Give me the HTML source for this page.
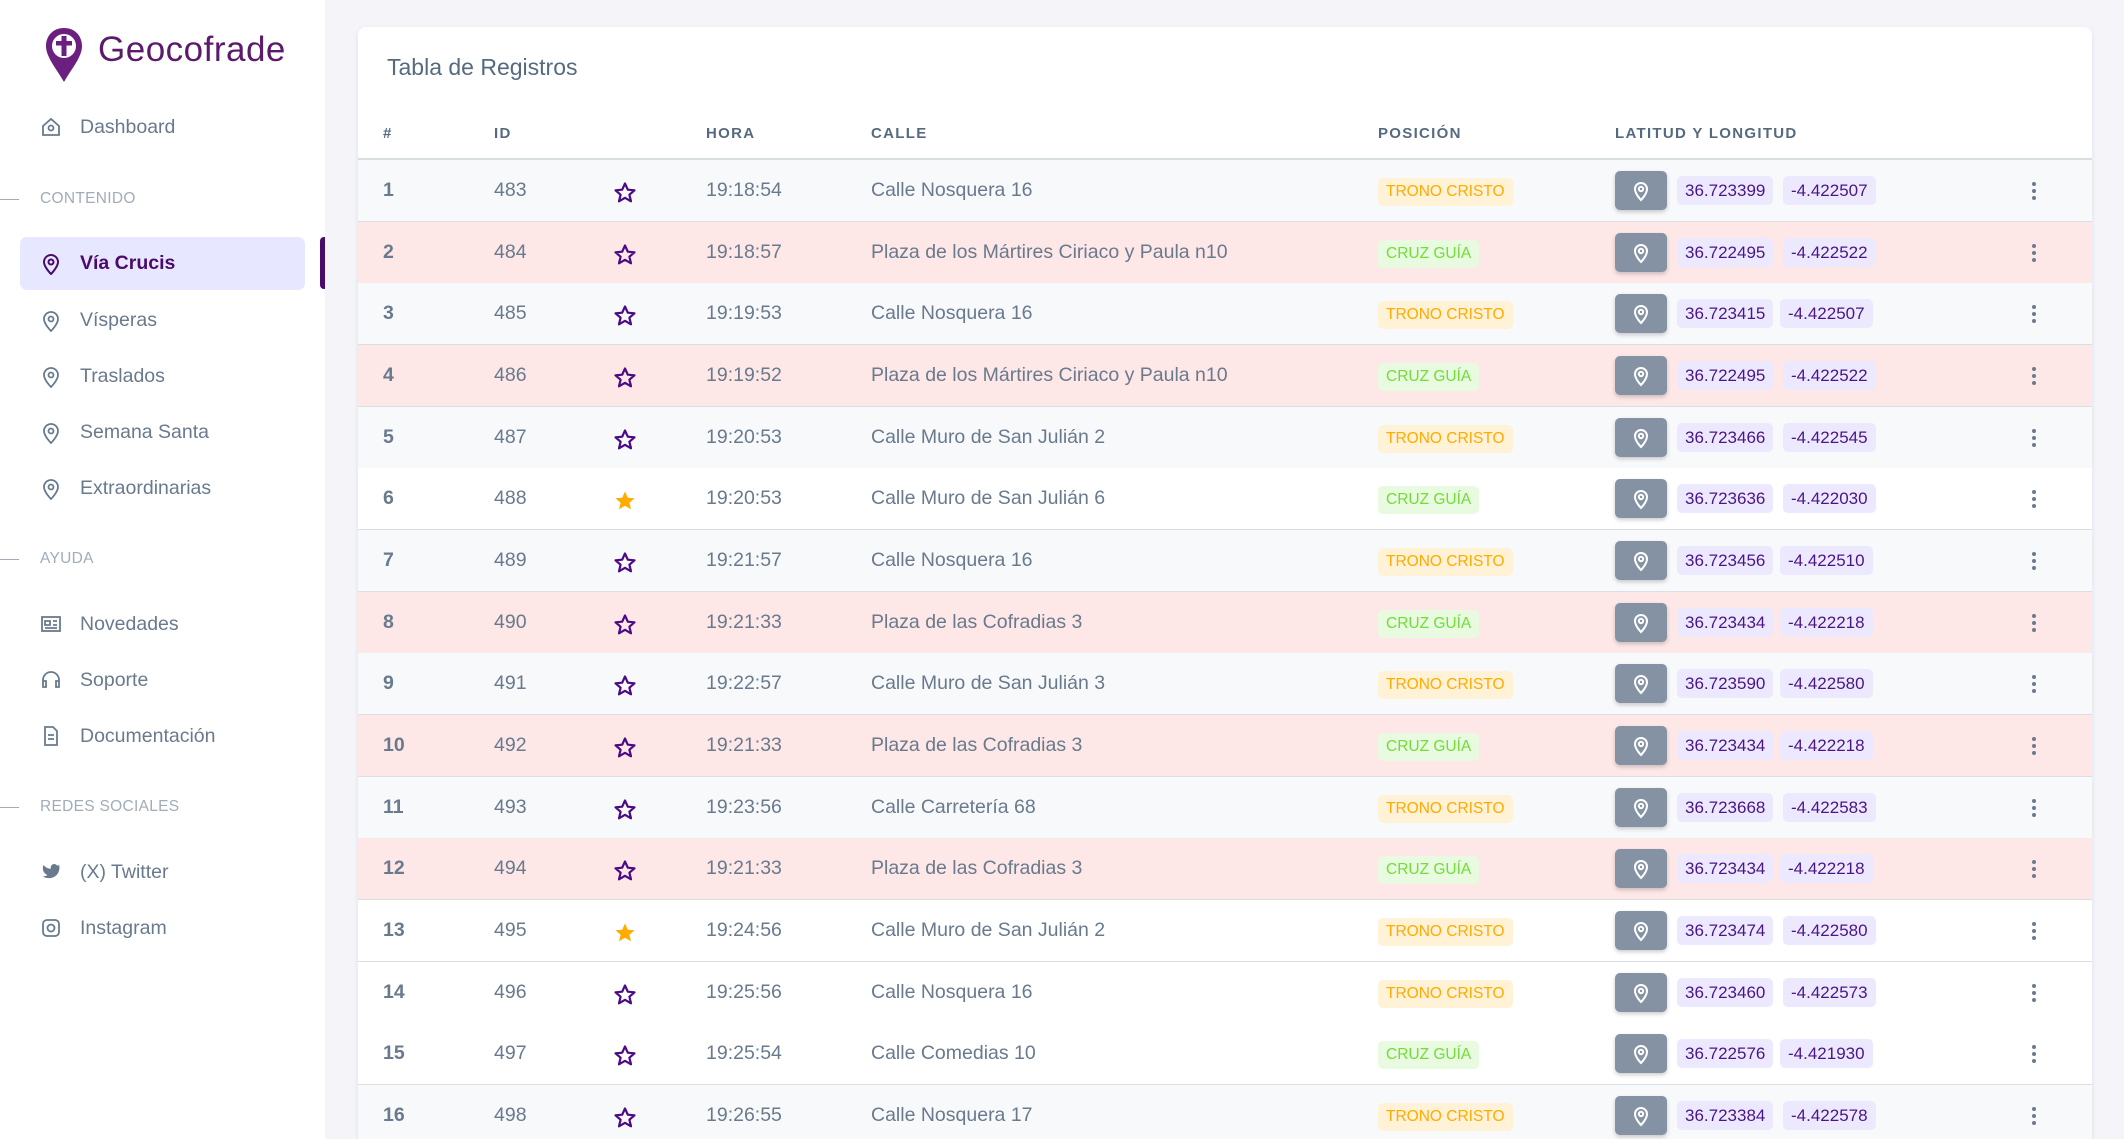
<!DOCTYPE html>
<html><head><meta charset="utf-8">
<style>
*{margin:0;padding:0;box-sizing:border-box}
html{width:2124px;height:1139px;overflow:hidden}
body{width:2124px;height:1139px;overflow:hidden;background:#f5f5f9;font-family:"Liberation Sans",sans-serif;color:#697a8d;position:relative}
.side{position:absolute;left:0;top:0;width:325px;height:1139px;background:#fff}
.logo{position:absolute;left:44px;top:26px}
.brand{position:absolute;left:98px;top:30px;font-size:35px;color:#5b1a6a;letter-spacing:0.5px}
.mi{position:absolute;left:0;width:325px;height:30px;font-size:19.5px;color:#697a8d;line-height:30px}
.mi svg{position:absolute;left:41px;top:5px}
.mi span{position:absolute;left:80px}
.sec{position:absolute;left:40px;font-size:15.5px;color:#a1acb8;letter-spacing:0.3px}
.secl{position:absolute;left:0;width:19px;height:1px;background:#a1acb8}
.active{position:absolute;left:20px;top:237px;width:285px;height:53px;background:#e7e7ff;border-radius:7px}
.abar{position:absolute;left:320px;top:237px;width:5px;height:52px;background:#4b0b6b;border-radius:4px 0 0 4px}
.wrap{position:absolute;left:0;top:0;width:2124px;height:1139px;overflow:hidden}
.card{position:absolute;left:358px;top:27px;width:1734px;height:1112px;background:#fff;border-radius:8px 8px 0 0;box-shadow:0 2px 6px rgba(67,89,113,.12)}
.title{position:absolute;left:387px;top:54px;font-size:23px;color:#566a7f}
.th{position:absolute;top:125px;font-size:15px;color:#566a7f;letter-spacing:1.3px;font-weight:bold}
.hl{position:absolute;left:358px;top:158px;width:1734px;height:2px;background:#d9dee3}
.row{position:absolute;left:358px;width:1734px;height:62px;border-bottom:1px solid #dbdee2;font-size:19.5px}
.row>*{position:absolute}
.n{left:25px;top:19px;font-weight:bold;color:#697a8d}
.id{left:136px;top:19px}
.st{left:255px;top:21px}
.h{left:348px;top:19px}
.c{left:513px;top:19px}
.b{left:1020px;top:18px;height:28px;line-height:28px;padding:0 8px;font-size:15.5px;border-radius:5px}
.tc{background:#fff2d6;color:#ffab00}
.cg{background:#e8fadf;color:#71dd37}
.mp{left:1257px;top:11px;width:52px;height:39px;background:#8592a3;border-radius:5px;box-shadow:0 2px 4px rgba(0,0,0,.2)}
.mp svg{position:absolute;left:17px;top:9px}
.la{top:16px;height:29px;line-height:29px;padding:0 8px;font-size:17px;color:#4b1487;background:#ece9ff;border-radius:5px}
.dt{left:1674px;top:22px;width:4px}
.dt i{display:block;width:4px;height:4px;border-radius:2px;background:#697a8d;margin-bottom:3px}
.l{background:#f8f9fb}.p{background:#fde7e7}.w{background:#fff}
</style></head><body>
<div class="wrap">
<div class="side">
<svg class="logo" width="40" height="58" viewBox="0 0 40 58"><path d="M20 2C9 2 2 10 2 20c0 11 10 22 18 36 8-14 18-25 18-36C38 10 31 2 20 2z" fill="#6b1f7f"/><circle cx="20" cy="20" r="12" fill="#fff"/><rect x="17.5" y="10" width="5" height="20" fill="#6b1f7f"/><rect x="12" y="15" width="16" height="4.5" fill="#6b1f7f"/></svg>
<div class="brand">Geocofrade</div>
<div class="mi" style="top:112px"><svg width="20" height="20" viewBox="0 0 20 20" fill="none" stroke="#697a8d" stroke-width="1.8"><path d="M2 9L10 2l8 7v9H2z"/><circle cx="10" cy="11" r="2.5"/></svg><span>Dashboard</span></div>
<div class="secl" style="top:199px"></div><div class="sec" style="top:190px">CONTENIDO</div>
<div class="active"></div><div class="abar"></div>
<div class="mi" style="top:248px;color:#4b0b6b;font-weight:bold"><svg width="20" height="22" viewBox="0 0 20 22" fill="none" stroke="#4b0b6b" stroke-width="2"><path d="M10 21s7-7 7-12a7 7 0 0 0-14 0c0 5 7 12 7 12z"/><circle cx="10" cy="9" r="2.5"/></svg><span>Vía Crucis</span></div>
<div class="mi" style="top:305px"><svg width="20" height="22" viewBox="0 0 20 22" fill="none" stroke="#697a8d" stroke-width="1.8"><path d="M10 21s7-7 7-12a7 7 0 0 0-14 0c0 5 7 12 7 12z"/><circle cx="10" cy="9" r="2.5"/></svg><span>Vísperas</span></div>
<div class="mi" style="top:361px"><svg width="20" height="22" viewBox="0 0 20 22" fill="none" stroke="#697a8d" stroke-width="1.8"><path d="M10 21s7-7 7-12a7 7 0 0 0-14 0c0 5 7 12 7 12z"/><circle cx="10" cy="9" r="2.5"/></svg><span>Traslados</span></div>
<div class="mi" style="top:417px"><svg width="20" height="22" viewBox="0 0 20 22" fill="none" stroke="#697a8d" stroke-width="1.8"><path d="M10 21s7-7 7-12a7 7 0 0 0-14 0c0 5 7 12 7 12z"/><circle cx="10" cy="9" r="2.5"/></svg><span>Semana Santa</span></div>
<div class="mi" style="top:473px"><svg width="20" height="22" viewBox="0 0 20 22" fill="none" stroke="#697a8d" stroke-width="1.8"><path d="M10 21s7-7 7-12a7 7 0 0 0-14 0c0 5 7 12 7 12z"/><circle cx="10" cy="9" r="2.5"/></svg><span>Extraordinarias</span></div>
<div class="secl" style="top:559px"></div><div class="sec" style="top:550px">AYUDA</div>
<div class="mi" style="top:609px"><svg width="20" height="20" viewBox="0 0 20 20" fill="none" stroke="#697a8d" stroke-width="1.8"><rect x="1" y="3" width="18" height="14"/><path d="M4 7h5v4H4zM12 7h4M12 11h4M4 14h12"/></svg><span>Novedades</span></div>
<div class="mi" style="top:665px"><svg width="20" height="20" viewBox="0 0 20 20" fill="none" stroke="#697a8d" stroke-width="1.8"><path d="M2 13v-3a8 8 0 0 1 16 0v3M2 11h3v6H2zM15 11h3v6h-3z"/></svg><span>Soporte</span></div>
<div class="mi" style="top:721px"><svg width="20" height="20" viewBox="0 0 20 20" fill="none" stroke="#697a8d" stroke-width="1.8"><path d="M4 1h8l4 4v14H4zM7 9h6M7 13h6"/></svg><span>Documentación</span></div>
<div class="secl" style="top:807px"></div><div class="sec" style="top:798px">REDES SOCIALES</div>
<div class="mi" style="top:857px"><svg width="20" height="20" viewBox="0 0 20 20"><path d="M19 4c-1 .5-2 .7-2 .7.8-.5 1.3-1.3 1.5-2-.7.4-1.5.7-2.3.9A3.5 3.5 0 0 0 10 6.8 10 10 0 0 1 2.5 3s-3 7 4 10c-1.5 1-3.3 1.5-5 1.4 8 4.5 17 0 17-9.3V4.6C19 4 19 4 19 4z" fill="#697a8d"/></svg><span>(X) Twitter</span></div>
<div class="mi" style="top:913px"><svg width="20" height="20" viewBox="0 0 20 20" fill="none" stroke="#697a8d" stroke-width="1.8"><rect x="2" y="2" width="16" height="16" rx="4"/><circle cx="10" cy="10" r="3.5"/></svg><span>Instagram</span></div>
</div>
<div class="card"></div>
<div class="title">Tabla de Registros</div>
<div class="th" style="left:383px">#</div>
<div class="th" style="left:494px">ID</div>
<div class="th" style="left:706px">HORA</div>
<div class="th" style="left:871px">CALLE</div>
<div class="th" style="left:1378px">POSICIÓN</div>
<div class="th" style="left:1615px">LATITUD Y LONGITUD</div>
<div class="hl"></div>

<svg width="0" height="0" style="position:absolute"><defs>
<symbol id="so" viewBox="0 0 24 24"><path d="M12 2.5l2.8 6.2 6.7.6-5.1 4.4 1.6 6.6L12 16.8l-6 3.5 1.6-6.6-5.1-4.4 6.7-.6z" fill="none" stroke="#4b0b87" stroke-width="2.2" stroke-linejoin="round"/></symbol>
<symbol id="sf" viewBox="0 0 24 24"><path d="M12 2.5l2.8 6.2 6.7.6-5.1 4.4 1.6 6.6L12 16.8l-6 3.5 1.6-6.6-5.1-4.4 6.7-.6z" fill="#ffab00"/></symbol>
<symbol id="pn" viewBox="0 0 18 22"><path d="M9 20s6-6 6-11A6 6 0 0 0 3 9c0 5 6 11 6 11z" fill="none" stroke="#fff" stroke-width="2"/><circle cx="9" cy="9" r="2.2" fill="none" stroke="#fff" stroke-width="2"/></symbol>
</defs></svg>

<div class="row l" style="top:160px"><span class="n">1</span><span class="id">483</span><svg class="st" width="24" height="24"><use href="#so"/></svg><span class="h">19:18:54</span><span class="c">Calle Nosquera 16</span><span class="b tc">TRONO CRISTO</span><span class="mp"><svg width="18" height="22"><use href="#pn"/></svg></span><span class="la" style="left:1319px">36.723399</span><span class="la" style="left:1425px">-4.422507</span><span class="dt"><i></i><i></i><i></i></span></div>
<div class="row p" style="top:222px"><span class="n">2</span><span class="id">484</span><svg class="st" width="24" height="24"><use href="#so"/></svg><span class="h">19:18:57</span><span class="c">Plaza de los Mártires Ciriaco y Paula n10</span><span class="b cg">CRUZ GUÍA</span><span class="mp"><svg width="18" height="22"><use href="#pn"/></svg></span><span class="la" style="left:1319px">36.722495</span><span class="la" style="left:1425px">-4.422522</span><span class="dt"><i></i><i></i><i></i></span></div>
<div class="row l" style="top:283px"><span class="n">3</span><span class="id">485</span><svg class="st" width="24" height="24"><use href="#so"/></svg><span class="h">19:19:53</span><span class="c">Calle Nosquera 16</span><span class="b tc">TRONO CRISTO</span><span class="mp"><svg width="18" height="22"><use href="#pn"/></svg></span><span class="la" style="left:1319px">36.723415</span><span class="la" style="left:1422px">-4.422507</span><span class="dt"><i></i><i></i><i></i></span></div>
<div class="row p" style="top:345px"><span class="n">4</span><span class="id">486</span><svg class="st" width="24" height="24"><use href="#so"/></svg><span class="h">19:19:52</span><span class="c">Plaza de los Mártires Ciriaco y Paula n10</span><span class="b cg">CRUZ GUÍA</span><span class="mp"><svg width="18" height="22"><use href="#pn"/></svg></span><span class="la" style="left:1319px">36.722495</span><span class="la" style="left:1425px">-4.422522</span><span class="dt"><i></i><i></i><i></i></span></div>
<div class="row l" style="top:407px"><span class="n">5</span><span class="id">487</span><svg class="st" width="24" height="24"><use href="#so"/></svg><span class="h">19:20:53</span><span class="c">Calle Muro de San Julián 2</span><span class="b tc">TRONO CRISTO</span><span class="mp"><svg width="18" height="22"><use href="#pn"/></svg></span><span class="la" style="left:1319px">36.723466</span><span class="la" style="left:1425px">-4.422545</span><span class="dt"><i></i><i></i><i></i></span></div>
<div class="row w" style="top:468px"><span class="n">6</span><span class="id">488</span><svg class="st" width="24" height="24"><use href="#sf"/></svg><span class="h">19:20:53</span><span class="c">Calle Muro de San Julián 6</span><span class="b cg">CRUZ GUÍA</span><span class="mp"><svg width="18" height="22"><use href="#pn"/></svg></span><span class="la" style="left:1319px">36.723636</span><span class="la" style="left:1425px">-4.422030</span><span class="dt"><i></i><i></i><i></i></span></div>
<div class="row l" style="top:530px"><span class="n">7</span><span class="id">489</span><svg class="st" width="24" height="24"><use href="#so"/></svg><span class="h">19:21:57</span><span class="c">Calle Nosquera 16</span><span class="b tc">TRONO CRISTO</span><span class="mp"><svg width="18" height="22"><use href="#pn"/></svg></span><span class="la" style="left:1319px">36.723456</span><span class="la" style="left:1422px">-4.422510</span><span class="dt"><i></i><i></i><i></i></span></div>
<div class="row p" style="top:592px"><span class="n">8</span><span class="id">490</span><svg class="st" width="24" height="24"><use href="#so"/></svg><span class="h">19:21:33</span><span class="c">Plaza de las Cofradias 3</span><span class="b cg">CRUZ GUÍA</span><span class="mp"><svg width="18" height="22"><use href="#pn"/></svg></span><span class="la" style="left:1319px">36.723434</span><span class="la" style="left:1422px">-4.422218</span><span class="dt"><i></i><i></i><i></i></span></div>
<div class="row l" style="top:653px"><span class="n">9</span><span class="id">491</span><svg class="st" width="24" height="24"><use href="#so"/></svg><span class="h">19:22:57</span><span class="c">Calle Muro de San Julián 3</span><span class="b tc">TRONO CRISTO</span><span class="mp"><svg width="18" height="22"><use href="#pn"/></svg></span><span class="la" style="left:1319px">36.723590</span><span class="la" style="left:1422px">-4.422580</span><span class="dt"><i></i><i></i><i></i></span></div>
<div class="row p" style="top:715px"><span class="n">10</span><span class="id">492</span><svg class="st" width="24" height="24"><use href="#so"/></svg><span class="h">19:21:33</span><span class="c">Plaza de las Cofradias 3</span><span class="b cg">CRUZ GUÍA</span><span class="mp"><svg width="18" height="22"><use href="#pn"/></svg></span><span class="la" style="left:1319px">36.723434</span><span class="la" style="left:1422px">-4.422218</span><span class="dt"><i></i><i></i><i></i></span></div>
<div class="row l" style="top:777px"><span class="n">11</span><span class="id">493</span><svg class="st" width="24" height="24"><use href="#so"/></svg><span class="h">19:23:56</span><span class="c">Calle Carretería 68</span><span class="b tc">TRONO CRISTO</span><span class="mp"><svg width="18" height="22"><use href="#pn"/></svg></span><span class="la" style="left:1319px">36.723668</span><span class="la" style="left:1425px">-4.422583</span><span class="dt"><i></i><i></i><i></i></span></div>
<div class="row p" style="top:838px"><span class="n">12</span><span class="id">494</span><svg class="st" width="24" height="24"><use href="#so"/></svg><span class="h">19:21:33</span><span class="c">Plaza de las Cofradias 3</span><span class="b cg">CRUZ GUÍA</span><span class="mp"><svg width="18" height="22"><use href="#pn"/></svg></span><span class="la" style="left:1319px">36.723434</span><span class="la" style="left:1422px">-4.422218</span><span class="dt"><i></i><i></i><i></i></span></div>
<div class="row w" style="top:900px"><span class="n">13</span><span class="id">495</span><svg class="st" width="24" height="24"><use href="#sf"/></svg><span class="h">19:24:56</span><span class="c">Calle Muro de San Julián 2</span><span class="b tc">TRONO CRISTO</span><span class="mp"><svg width="18" height="22"><use href="#pn"/></svg></span><span class="la" style="left:1319px">36.723474</span><span class="la" style="left:1425px">-4.422580</span><span class="dt"><i></i><i></i><i></i></span></div>
<div class="row w" style="top:962px"><span class="n">14</span><span class="id">496</span><svg class="st" width="24" height="24"><use href="#so"/></svg><span class="h">19:25:56</span><span class="c">Calle Nosquera 16</span><span class="b tc">TRONO CRISTO</span><span class="mp"><svg width="18" height="22"><use href="#pn"/></svg></span><span class="la" style="left:1319px">36.723460</span><span class="la" style="left:1425px">-4.422573</span><span class="dt"><i></i><i></i><i></i></span></div>
<div class="row w" style="top:1023px"><span class="n">15</span><span class="id">497</span><svg class="st" width="24" height="24"><use href="#so"/></svg><span class="h">19:25:54</span><span class="c">Calle Comedias 10</span><span class="b cg">CRUZ GUÍA</span><span class="mp"><svg width="18" height="22"><use href="#pn"/></svg></span><span class="la" style="left:1319px">36.722576</span><span class="la" style="left:1422px">-4.421930</span><span class="dt"><i></i><i></i><i></i></span></div>
<div class="row l" style="top:1085px"><span class="n">16</span><span class="id">498</span><svg class="st" width="24" height="24"><use href="#so"/></svg><span class="h">19:26:55</span><span class="c">Calle Nosquera 17</span><span class="b tc">TRONO CRISTO</span><span class="mp"><svg width="18" height="22"><use href="#pn"/></svg></span><span class="la" style="left:1319px">36.723384</span><span class="la" style="left:1425px">-4.422578</span><span class="dt"><i></i><i></i><i></i></span></div>
</div>
</body></html>
